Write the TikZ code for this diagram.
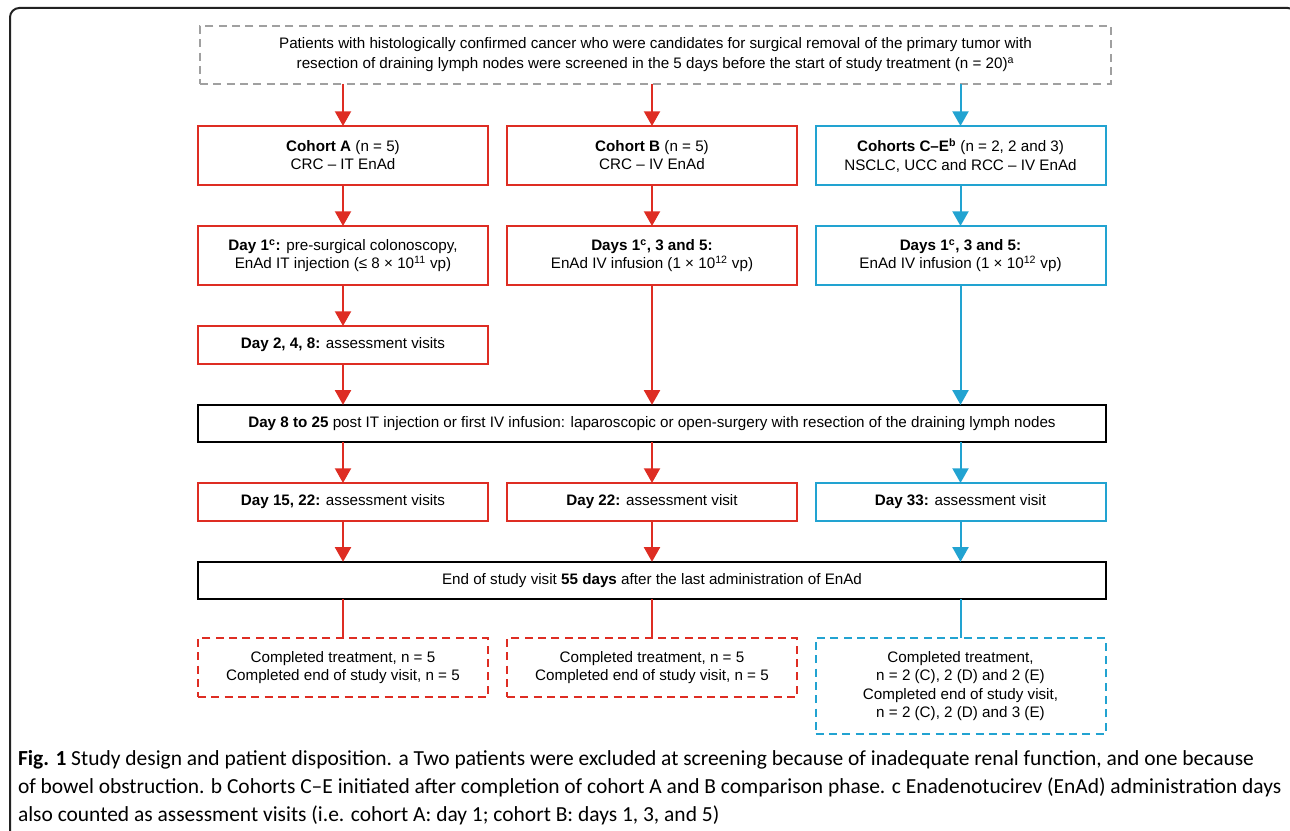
\documentclass[tikz,border=0pt]{standalone}
\usepackage{fontspec}
\setmainfont{Liberation Sans}
\newfontfamily\capfont{Carlito}
\usetikzlibrary{arrows.meta}
\definecolor{cde2d23}{RGB}{222,45,35}
\definecolor{c22a3d1}{RGB}{34,163,209}
\definecolor{c999999}{RGB}{160,160,160}
\definecolor{c222222}{RGB}{34,34,34}

\begin{document}
\begin{tikzpicture}[y=0.75pt, x=0.75pt, yscale=-1, inner sep=0pt, outer sep=0pt,
  font=\fontsize{11.4}{13.6}\selectfont,
  box/.style={line width=1.5pt, align=center, minimum width=217.5pt},
  tall/.style={box, minimum height=44.25pt},
  short/.style={box, minimum height=28.5pt},
  wide/.style={box, draw=black, minimum width=681pt, minimum height=28pt},
  flow/.style={line width=1.5pt, -{Triangle[width=12pt,length=11pt]}},
  stub/.style={line width=1.5pt},
  dashbox/.style={dash pattern=on 6pt off 4pt}]
\useasboundingbox (0,0) rectangle (1290,831);
\begin{scope}
  \clip (0,0) rectangle (1290,831);
  \path[draw=c222222,line width=1.5pt,rounded corners=7pt]
    (10,840) -- (10,8) -- (1297,8) -- (1297,840);
\end{scope}

\path (655.5,55) node[box, draw=c999999, dashbox, minimum width=683.25pt,
  minimum height=43.5pt, font=\fontsize{11.4}{15}\selectfont] (screen)
  {Patients with histologically confirmed cancer who were candidates for surgical removal of the primary tumor with\\
   resection of draining lymph nodes were screened in the 5 days before the start of study treatment (n = 20)\textsuperscript{a}};

\path (343,155.5) node[tall, draw=cde2d23] (cohortA)
  {\textbf{Cohort A} (n = 5)\\CRC – IT EnAd};
\path (652,155.5) node[tall, draw=cde2d23] (cohortB)
  {\textbf{Cohort B} (n = 5)\\CRC – IV EnAd};
\path (960.5,155.5) node[tall, draw=c22a3d1] (cohortC)
  {\textbf{Cohorts C–E\textsuperscript{b}} (n = 2, 2 and 3)\\NSCLC, UCC and RCC – IV EnAd};

\path (343,255.5) node[tall, draw=cde2d23] (dosingA)
  {\textbf{Day 1\textsuperscript{c}:} pre-surgical colonoscopy,\\EnAd IT injection (≤ 8 × 10\textsuperscript{11} vp)};
\path (652,255.5) node[tall, draw=cde2d23] (dosingB)
  {\textbf{Days 1\textsuperscript{c}, 3 and 5:}\\EnAd IV infusion (1 × 10\textsuperscript{12} vp)};
\path (960.5,255.5) node[tall, draw=c22a3d1] (dosingC)
  {\textbf{Days 1\textsuperscript{c}, 3 and 5:}\\EnAd IV infusion (1 × 10\textsuperscript{12} vp)};

\path (343,345) node[short, draw=cde2d23] (visitsA)
  {\textbf{Day 2, 4, 8:} assessment visits};

\path (652,423.5) node[wide] (surgery)
  {\textbf{Day 8 to 25} post IT injection or first IV infusion: laparoscopic or open-surgery with resection of the draining lymph nodes};

\path (343,502) node[short, draw=cde2d23] (followA)
  {\textbf{Day 15, 22:} assessment visits};
\path (652,502) node[short, draw=cde2d23] (followB)
  {\textbf{Day 22:} assessment visit};
\path (960.5,502) node[short, draw=c22a3d1] (followC)
  {\textbf{Day 33:} assessment visit};

\path (652,580.5) node[wide] (endvisit)
  {End of study visit \textbf{55 days} after the last administration of EnAd};

\path (343,667.5) node[tall, draw=cde2d23, dashbox] (doneA)
  {Completed treatment, n = 5\\Completed end of study visit, n = 5};
\path (652,667.5) node[tall, draw=cde2d23, dashbox] (doneB)
  {Completed treatment, n = 5\\Completed end of study visit, n = 5};
\path (960.5,686) node[box, draw=c22a3d1, dashbox, minimum height=72pt] (doneC)
  {Completed treatment,\\n = 2 (C), 2 (D) and 2 (E)\\Completed end of study visit,\\n = 2 (C), 2 (D) and 3 (E)};

\path[draw=cde2d23, fill=cde2d23, flow] (cohortA.north |- screen.south) -- (cohortA.north);
\path[draw=cde2d23, fill=cde2d23, flow] (cohortB.north |- screen.south) -- (cohortB.north);
\path[draw=c22a3d1, fill=c22a3d1, flow] (cohortC.north |- screen.south) -- (cohortC.north);
\path[draw=cde2d23, fill=cde2d23, flow] (cohortA) -- (dosingA);
\path[draw=cde2d23, fill=cde2d23, flow] (cohortB) -- (dosingB);
\path[draw=c22a3d1, fill=c22a3d1, flow] (cohortC) -- (dosingC);
\path[draw=cde2d23, fill=cde2d23, flow] (dosingA) -- (visitsA);
\path[draw=cde2d23, fill=cde2d23, flow] (visitsA.south) -- (visitsA.south |- surgery.north);
\path[draw=cde2d23, fill=cde2d23, flow] (dosingB.south) -- (dosingB.south |- surgery.north);
\path[draw=c22a3d1, fill=c22a3d1, flow] (dosingC.south) -- (dosingC.south |- surgery.north);
\path[draw=cde2d23, fill=cde2d23, flow] (followA.north |- surgery.south) -- (followA.north);
\path[draw=cde2d23, fill=cde2d23, flow] (followB.north |- surgery.south) -- (followB.north);
\path[draw=c22a3d1, fill=c22a3d1, flow] (followC.north |- surgery.south) -- (followC.north);
\path[draw=cde2d23, fill=cde2d23, flow] (followA.south) -- (followA.south |- endvisit.north);
\path[draw=cde2d23, fill=cde2d23, flow] (followB.south) -- (followB.south |- endvisit.north);
\path[draw=c22a3d1, fill=c22a3d1, flow] (followC.south) -- (followC.south |- endvisit.north);
\path[draw=cde2d23, stub] (doneA.north |- endvisit.south) -- (doneA.north);
\path[draw=cde2d23, stub] (doneB.north |- endvisit.south) -- (doneB.north);
\path[draw=c22a3d1, stub] (doneC.north |- endvisit.south) -- (doneC.north);

\path (18,788) node[anchor=west, align=left, font=\capfont\fontsize{16.1}{21}\selectfont] (caption)
  {\textbf{Fig. 1} Study design and patient disposition. a Two patients were excluded at screening because of inadequate renal function, and one because\\
   of bowel obstruction. b Cohorts C–E initiated after completion of cohort A and B comparison phase. c Enadenotucirev (EnAd) administration days\\
   also counted as assessment visits (i.e. cohort A: day 1; cohort B: days 1, 3, and 5)};
\end{tikzpicture}
\end{document}
